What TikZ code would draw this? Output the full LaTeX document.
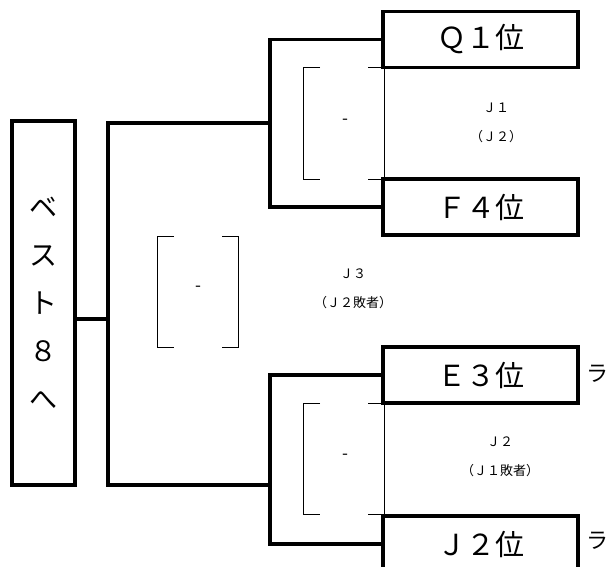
\documentclass[tikz,border=0pt]{standalone}
\usepackage{fontspec}
\setmainfont{Noto Sans CJK JP}
\usepackage{tikz}
\usetikzlibrary{positioning, calc}

\begin{document}
\begin{tikzpicture}[
  x=1pt, y=-1pt,
  seed/.style={draw, line width=3.3pt, minimum width=195pt, minimum height=56pt, inner sep=0pt, font=\fontsize{29}{29}\selectfont},
  goal/.style={draw, line width=3.3pt, minimum width=63pt, minimum height=364pt, inner sep=0pt, align=center, font=\fontsize{28}{48}\selectfont},
  bold/.style={line width=3.3pt},
  thin/.style={line width=0.9pt},
  note/.style={font=\fontsize{13}{28.5}\selectfont, align=center, inner sep=0pt},
  score/.style={font=\fontsize{17}{17}\selectfont, inner sep=0pt}
]
  \useasboundingbox (0,0) rectangle (610,567);

  \node[goal] (best) at (43.5,303) {ベ\\ス\\ト\\８\\へ};
  \node[seed] (q1) at (480.5,39.5) {Ｑ１位};
  \node[seed] (f4) at (480.5,207) {Ｆ４位};
  \node[seed] (e3) at (480.5,375) {Ｅ３位};
  \node[seed] (j2) at (480.5,544) {Ｊ２位};

  \coordinate (top) at (270,123);
  \coordinate (bot) at (270,485);
  \coordinate (fin) at (108,319);

  \draw[bold] (q1.west) -| (top) |- (f4.west);
  \draw[bold] (e3.west) -| (bot) |- (j2.west);
  \draw[bold] (top) -| (fin) |- (bot);
  \draw[bold] (best.east |- fin) -- (fin);

  % score brackets
  \foreach \l/\r/\t/\b in {303/384/67/179, 157/238/236/347, 303/384/403/514}{
    \draw[thin] (\l+17,\t) -- (\l,\t) -- (\l,\b) -- (\l+17,\b);
    \draw[thin] (\r-16,\t) -- (\r,\t) -- (\r,\b) -- (\r-16,\b);
  }
  \node[score] (d1) at (345,122) {-};
  \node[score] (d3) at (198,289) {-};
  \node[score] (d2) at (345,457) {-};

  \node[note] (m1) at (496,123) {Ｊ１\\（Ｊ２）};
  \node[note] (m3) at (353,289) {Ｊ３\\（Ｊ２敗者）};
  \node[note] (m2) at (500,457) {Ｊ２\\（Ｊ１敗者）};

  \node[font=\fontsize{22}{22}\selectfont, inner sep=0pt] (r1) at (597,374) {ラ};
  \node[font=\fontsize{22}{22}\selectfont, inner sep=0pt] (r2) at (597,541) {ラ};
\end{tikzpicture}
\end{document}
